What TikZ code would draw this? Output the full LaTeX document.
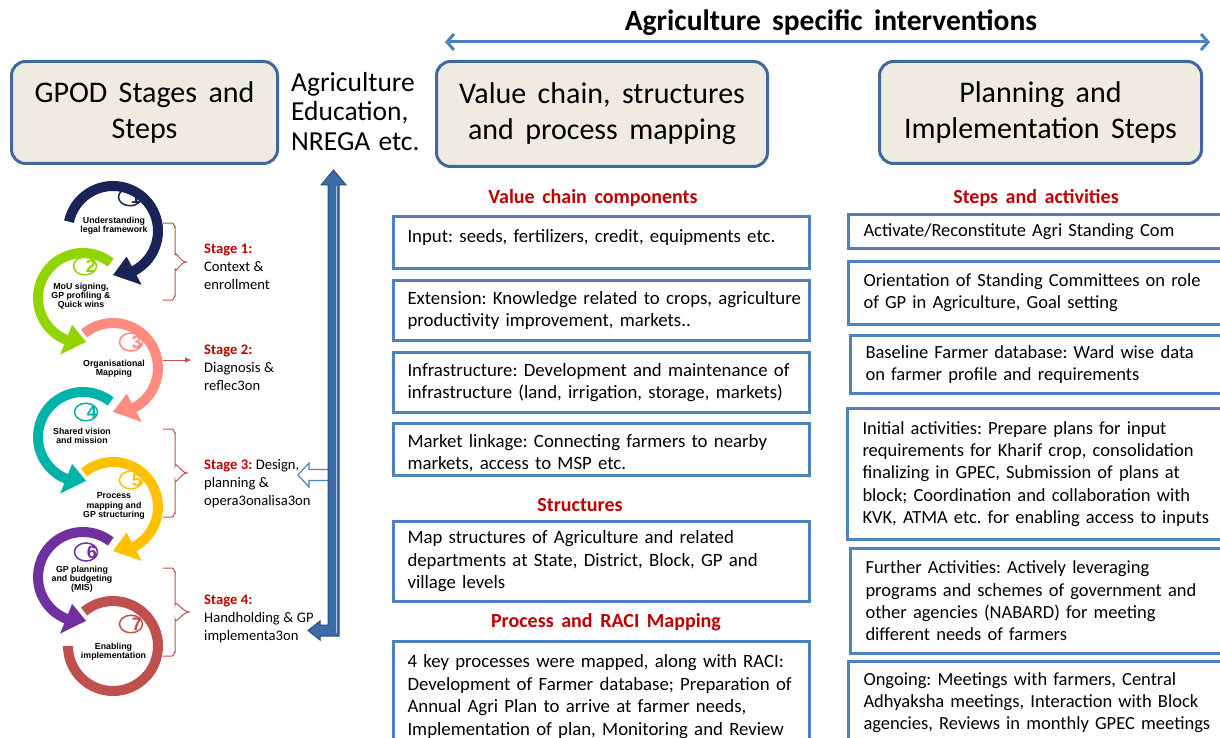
\documentclass[tikz,border=0pt]{standalone}
\usepackage{fontspec}
\setmainfont{Carlito}
\newfontfamily\cyclefont{Liberation Sans}
\usetikzlibrary{arrows.meta,shapes.geometric}
\definecolor{hdrfill}{HTML}{EEECE1}
\definecolor{hdrblue}{HTML}{41689C}
\definecolor{boxblue}{HTML}{4F81BD}
\definecolor{redtxt}{HTML}{C00000}
\definecolor{bracered}{HTML}{C0504D}
\definecolor{vfill}{HTML}{3D6BA8}
\definecolor{vedge}{HTML}{2A4E7E}
\definecolor{cA}{HTML}{1A2358}
\definecolor{cB}{HTML}{92D400}
\definecolor{cC}{HTML}{FF8A80}
\definecolor{cD}{HTML}{00B3A8}
\definecolor{cE}{HTML}{FFC000}
\definecolor{cF}{HTML}{7030A0}
\definecolor{cG}{HTML}{C0504D}
\newcommand{\wsA}{\frenchspacing\spaceskip 0.3em\relax}
\newcommand{\wsS}{\frenchspacing\spaceskip 0.24em\relax}
\newcommand{\wsB}{\frenchspacing\spaceskip 0.36em\relax}
\newcommand{\wsC}{\frenchspacing\spaceskip 0.38em\relax}
\tikzset{
  hdr/.style={draw=hdrblue, fill=hdrfill, line width=3pt, rounded corners=14pt,
    align=center, anchor=north west, inner sep=0pt,
    font=\fontsize{30}{36}\selectfont\wsC},
  vbox/.style={draw=boxblue, line width=3pt, fill=white, anchor=north west,
    align=left, inner ysep=0pt},
  lbox/.style={vbox, text width=388pt, inner xsep=14pt, font=\fontsize{18.8}{22.5}\selectfont\wsB},
  rbox/.style={vbox, text width=350pt, inner xsep=15pt, font=\fontsize{18.5}{22.3}\selectfont\wsB},
  sechead/.style={text=redtxt, font=\fontsize{20}{22}\selectfont\bfseries\wsC},
  stagetxt/.style={align=left, anchor=north west, inner sep=0pt,
    font=\fontsize{14.6}{18}\selectfont\wsS},
  cyc/.style={line width=10pt},
  cyclbl/.style={align=center, font=\cyclefont\bfseries\fontsize{8.8}{9.2}\selectfont, inner sep=0pt},
  numell/.style={ellipse, draw, line width=1.5pt, minimum width=23pt, minimum height=15pt, inner sep=0pt,
    font=\cyclefont\bfseries\fontsize{18}{18}\selectfont},
  brace/.style={draw=bracered, line width=1pt},
}
\newcommand{\stg}[1]{\textcolor{redtxt}{\bfseries #1}}
\newcommand{\numtxt}[1]{\makebox[0pt]{\hspace{12pt}#1}}
\begin{document}
\begin{tikzpicture}[x=1pt,y=-1pt]
\useasboundingbox (0,0) rectangle (1220,738);
\fill[white] (0,0) rectangle (1220,738);

% ---- title and top arrow
\node[font=\fontsize{29.5}{32}\selectfont\bfseries\wsC] (title) at (831,23) {Agriculture specific interventions};
\coordinate (tl) at (445,42);
\coordinate (tr) at (1210,42);
\draw[draw=boxblue, line width=3pt, {Straight Barb[length=7pt,width=16pt]}-{Straight Barb[length=7pt,width=16pt]}] (tl) -- (tr);

% ---- header boxes
\node[hdr, minimum width=266pt, minimum height=102pt] (h1) at (10,60) {GPOD Stages and\\Steps};
\node[hdr, minimum width=331pt, minimum height=105pt] (h2) at (435,60) {Value chain, structures\\and process mapping};
\node[hdr, minimum width=322pt, minimum height=102pt] (h3) at (878,60) {Planning and\\Implementation Steps};
\node[align=left, anchor=north west, inner sep=0pt, font=\fontsize{27.5}{29.5}\selectfont\wsA] (agr) at (291,72) {Agriculture\\Education,\\NREGA etc.};

% ---- value chain column
\node[sechead] (vch) at (593,198) {Value chain components};
\node[lbox, minimum height=52pt] (b1) at (392,215) {\mbox{Input: seeds, fertilizers, credit, equipments etc.}\\[-10pt]\mbox{}};
\node[lbox, minimum height=60pt] (b2) at (392,279) {\mbox{Extension: Knowledge related to crops, agriculture}\\\mbox{productivity improvement, markets..}};
\node[lbox, minimum height=60pt] (b3) at (392,351) {\mbox{Infrastructure: Development and maintenance of}\\\mbox{infrastructure (land, irrigation, storage, markets)}};
\node[lbox, minimum height=52pt] (b4) at (392,422) {\rule{0pt}{20pt}\mbox{Market linkage: Connecting farmers to nearby}\\\mbox{markets, access to MSP etc.}};
\node[sechead] (sth) at (580,505) {Structures};
\node[lbox, minimum height=80pt] (b5) at (392,520) {\mbox{Map structures of Agriculture and related}\\\mbox{departments at State, District, Block, GP and}\\\mbox{village levels}};
\node[sechead] (prh) at (606,622) {Process and RACI Mapping};
\node[lbox, minimum height=110pt] (b6) at (392,640) {\mbox{4 key processes were mapped, along with RACI:}\\\mbox{Development of Farmer database; Preparation of}\\\mbox{Annual Agri Plan to arrive at farmer needs,}\\\mbox{Implementation of plan, Monitoring and Review}};

% ---- steps column
\node[sechead] (sah) at (1036,198) {Steps and activities};
\node[rbox, minimum height=34pt] (r1) at (847,213) {\mbox{Activate/Reconstitute Agri Standing Com}};
\node[rbox, minimum height=63pt] (r2) at (847,260) {\mbox{Orientation of Standing Committees on role}\\\mbox{of GP in Agriculture, Goal setting}};
\node[rbox, minimum height=58pt] (r3) at (849,334) {\mbox{Baseline Farmer database: Ward wise data}\\\mbox{on farmer profile and requirements}};
\node[rbox, minimum height=131pt] (r4) at (846,407) {\mbox{Initial activities: Prepare plans for input}\\\mbox{requirements for Kharif crop, consolidation}\\\mbox{finalizing in GPEC, Submission of plans at}\\\mbox{block; Coordination and collaboration with}\\\mbox{KVK, ATMA etc. for enabling access to inputs}};
\node[rbox, minimum height=105pt] (r5) at (849,547) {\mbox{Further Activities: Actively leveraging}\\\mbox{programs and schemes of government and}\\\mbox{other agencies (NABARD) for meeting}\\\mbox{different needs of farmers}};
\node[rbox, minimum height=82pt] (r6) at (847,660) {\mbox{Ongoing: Meetings with farmers, Central}\\\mbox{Adhyaksha meetings, Interaction with Block}\\\mbox{agencies, Reviews in monthly GPEC meetings}};

% ---- stage texts
\node[stagetxt] (st1) at (204,244) {\stg{Stage 1:}\\Context \&\\enrollment};
\node[stagetxt] (st2) at (204,345) {\stg{Stage 2:}\\Diagnosis \&\\reflec3on};
\node[stagetxt] (st3) at (204,459) {\stg{Stage 3:} Design,\\planning \&\\opera3onalisa3on};
\node[stagetxt] (st4) at (204,595) {\stg{Stage 4:}\\Handholding \& GP\\implementa3on};

% ---- braces
\draw[brace] (163,223) -- (172,223) to[out=0,in=-90] (175,227) -- (175,255) to[out=90,in=180] (186,262) to[out=180,in=-90] (175,269) -- (175,296) to[out=90,in=0] (172,300) -- (163,300);
\draw[brace] (163,429) -- (172,429) to[out=0,in=-90] (175,433) -- (175,466) to[out=90,in=180] (187,473) to[out=180,in=-90] (175,480) -- (175,513) to[out=90,in=0] (172,517) -- (163,517);
\draw[brace] (163,568) -- (172,568) to[out=0,in=-90] (175,572) -- (175,605) to[out=90,in=180] (189,612) to[out=180,in=-90] (175,619) -- (175,652) to[out=90,in=0] (172,656) -- (163,656);
\coordinate (s2a) at (163,360);
\coordinate (s2b) at (191,360);
\draw[draw=bracered, line width=1pt, -{Triangle[length=6pt,width=5pt]}] (s2a) -- (s2b);

% ---- hollow arrow and vertical arrow
\coordinate (htip) at (298,475);
\draw[draw=boxblue, fill=white, line width=1.2pt] (332,469.5) -- (309,469.5) -- (309,463) -- (htip) -- (309,487) -- (309,480.5) -- (332,480.5);
\coordinate (vtop) at (333.5,170);
\coordinate (vbot) at (308,630.5);
\filldraw[fill=vfill, draw=vedge, line width=1pt] (328,185) -- (321,185) -- (vtop) -- (346,185) -- (339,185) -- (339,636) -- (320,636) -- (320,640) -- (vbot) -- (320,621) -- (320,625) -- (328,625) -- cycle;
\draw[white!60!vfill, line width=1.5pt] (336.5,186) -- (336.5,633);

% ---- cycle circles
\coordinate (c1) at (113,231);
\coordinate (c2) at (83,298);
\coordinate (c3) at (113,368);
\coordinate (c4) at (83,437);
\coordinate (c5) at (113,507);
\coordinate (c6) at (83,577);
\coordinate (c7) at (113,646);
% 7
\draw[cyc, draw=cG, shift={(c7)}] (-130:45) arc[start angle=-130, end angle=180, radius=45];
% 6
\draw[cyc, draw=cF, shift={(c6)}] (-52:45) arc[start angle=-52, end angle=-250, radius=45];
\fill[cF, shift={(c6)}] (-248:29) -- (-248:61) -- (-274:44) -- cycle;
% 5
\draw[cyc, draw=cE, shift={(c5)}] (-130:45) arc[start angle=-130, end angle=64, radius=45];
\fill[cE, shift={(c5)}] (62:29) -- (62:61) -- (90:44) -- cycle;
% 4
\draw[cyc, draw=cD, shift={(c4)}] (-52:45) arc[start angle=-52, end angle=-250, radius=45];
\fill[cD, shift={(c4)}] (-248:29) -- (-248:61) -- (-274:44) -- cycle;
% 3
\draw[cyc, draw=cC, shift={(c3)}] (-130:45) arc[start angle=-130, end angle=64, radius=45];
\fill[cC, shift={(c3)}] (62:29) -- (62:61) -- (90:44) -- cycle;
% 2
\draw[cyc, draw=cB, shift={(c2)}] (-52:45) arc[start angle=-52, end angle=-250, radius=45];
\fill[cB, shift={(c2)}] (-248:29) -- (-248:61) -- (-274:44) -- cycle;
% 1
\draw[cyc, draw=cA, shift={(c1)}] (-168:45) arc[start angle=-168, end angle=64, radius=45];
\fill[cA, shift={(c1)}] (62:29) -- (62:61) -- (90:44) -- cycle;

% numbers
\node[numell, draw=cA, text=cA] (n1) at (130,197) {\numtxt{1}};
\node[numell, draw=cB, text=cB] (n2) at (85,266) {\numtxt{2}};
\node[numell, draw=cC, text=cC] (n3) at (131,342) {\numtxt{3}};
\node[numell, draw=cD, text=cD] (n4) at (86,412) {\numtxt{4}};
\node[numell, draw=cE, text=cE] (n5) at (131,480) {\numtxt{5}};
\node[numell, draw=cF, text=cF] (n6) at (86,552) {\numtxt{6}};
\node[numell, draw=cG, text=cG] (n7) at (131,624) {\numtxt{7}};

% labels
\node[cyclbl] (l1) at (114,225.5) {Understanding\\legal framework};
\node[cyclbl] (l2) at (81,296) {MoU signing,\\GP profiling \&\\Quick wins};
\node[cyclbl] (l3) at (114,368.5) {Organisational\\Mapping};
\node[cyclbl] (l4) at (82,435.5) {Shared vision\\and mission};
\node[cyclbl] (l5) at (114,506) {Process\\mapping and\\GP structuring};
\node[cyclbl] (l6) at (82,579) {GP planning\\and budgeting\\(MIS)};
\node[cyclbl] (l7) at (113.5,651.5) {Enabling\\implementation};
\end{tikzpicture}
\end{document}
